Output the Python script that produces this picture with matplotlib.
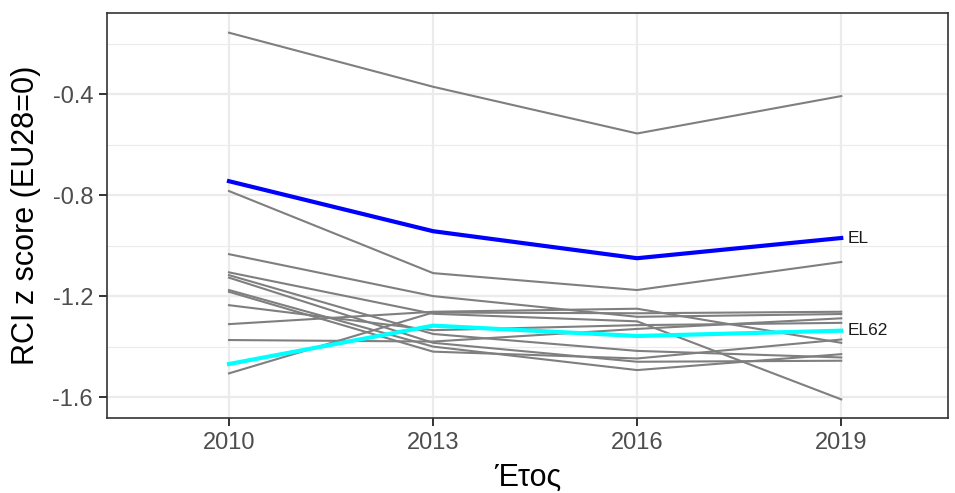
import numpy as np
import matplotlib
matplotlib.use('Agg')
import matplotlib.pyplot as plt

plt.rcParams['font.family'] = ['Liberation Sans', 'DejaVu Sans']

# Data
years = [2010, 2013, 2016, 2019]
year_labels = ['2010', '2013', '2016', '2019']

# regional lines (grey)
regions = [
    [-0.157, -0.371, -0.556, -0.408],
    [-0.784, -1.109, -1.176, -1.065],
    [-1.034, -1.200, -1.282, -1.271],
    [-1.106, -1.270, -1.300, -1.609],
    [-1.117, -1.350, -1.417, -1.443],
    [-1.127, -1.385, -1.460, -1.456],
    [-1.176, -1.400, -1.493, -1.430],
    [-1.183, -1.420, -1.447, -1.372],
    [-1.236, -1.335, -1.315, -1.306],
    [-1.311, -1.262, -1.250, -1.385],
    [-1.374, -1.380, -1.330, -1.288],
    [-1.506, -1.265, -1.268, -1.262],
]
el_country = [-0.745, -0.943, -1.050, -0.970]
el62 = [-1.469, -1.317, -1.358, -1.337]

y_ticks = [-0.4, -0.8, -1.2, -1.6]
y_tick_labels = ['-0.4', '-0.8', '-1.2', '-1.6']
y_minor = [-0.2, -0.6, -1.0, -1.4]

# Plot setup (ggplot theme_bw look)
fig = plt.figure(figsize=(9.55, 4.93), dpi=100)
ax = fig.add_axes([0.112, 0.152, 0.8807, 0.8216])
ax.set_facecolor('white')

for yv in y_minor:
    ax.axhline(yv, color='#EBEBEB', linewidth=0.8, zorder=0)
for yv in y_ticks:
    ax.axhline(yv, color='#EBEBEB', linewidth=1.6, zorder=0)
for xv in years:
    ax.axvline(xv, color='#EBEBEB', linewidth=1.6, zorder=0)

for r in regions:
    ax.plot(years, r, color='#7F7F7F', linewidth=1.5, zorder=2)
ax.plot(years, el_country, color='#0000FF', linewidth=3, zorder=3)
ax.plot(years, el62, color='#00FFFF', linewidth=3, zorder=3)

ax.text(years[-1] + 0.1, el_country[-1], 'EL', fontsize=12.5, va='center', ha='left', color='#1A1A1A')
ax.text(years[-1] + 0.1, el62[-1], 'EL62', fontsize=12.5, va='center', ha='left', color='#1A1A1A')

ax.set_xlim(2008.206, 2020.57)
ax.set_ylim(-1.683, -0.079)
ax.set_xticks(years)
ax.set_xticklabels(year_labels)
ax.set_yticks(y_ticks)
ax.set_yticklabels(y_tick_labels)
ax.tick_params(axis='both', colors='#333333', labelcolor='#4D4D4D', labelsize=17, length=6, width=1.4, pad=4)

for s in ax.spines.values():
    s.set_color('#333333')
    s.set_linewidth(1.2)

ax.set_xlabel('Έτος', fontsize=22, labelpad=6)
ax.set_ylabel('RCI z score (EU28=0)', fontsize=22, labelpad=8)

plt.savefig('out.png', dpi=100)
